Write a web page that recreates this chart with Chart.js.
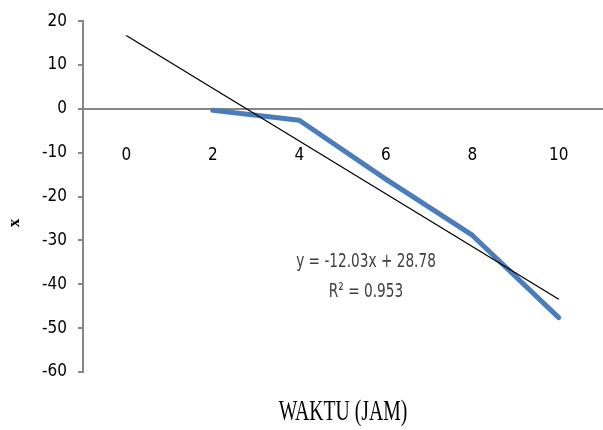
<!DOCTYPE html>
<html>
<head>
<meta charset="utf-8">
<script src="https://cdn.jsdelivr.net/npm/chart.js@4.4.0/dist/chart.umd.min.js"></script>
<style>
html, body { margin: 0; padding: 0; background: #fff; }
</style>
</head>
<body>
<canvas id="waktuChart" width="603" height="430"></canvas>
<script>
// data
const hours = ['0', '2', '4', '6', '8', '10'];
const xValues = [null, -0.3, -2.6, -16.0, -28.8, -47.6];
const trendValues = [16.75, null, null, null, null, -43.4];
const yTicks = [20, 10, 0, -10, -20, -30, -40, -50, -60];
const trendText = ['y = -12.03x + 28.78', 'R\u00B2 = 0.953'];
const xTitle = 'WAKTU (JAM)';
const yTitle = 'x';

const narrow = '"Liberation Sans Narrow", "DejaVu Sans Condensed", sans-serif';
const axisGrey = '#868686';

const textPlugin = {
	id: 'texts',
	afterDraw(chart) {
		const ctx = chart.ctx;
		ctx.save();
		ctx.textAlign = 'center';
		ctx.textBaseline = 'middle';

		// trendline label, squashed like the original
		ctx.fillStyle = '#404040';
		ctx.font = '20px ' + narrow;
		trendText.forEach((t, i) => {
			ctx.save();
			ctx.translate(366, 262 + i * 30);
			ctx.scale(0.76, 1);
			ctx.fillText(t, 0, 0);
			ctx.restore();
		});

		// x axis title
		ctx.fillStyle = '#000';
		ctx.save();
		ctx.translate(343, 412);
		ctx.scale(0.68, 1);
		ctx.font = '29px "Liberation Serif", "Times New Roman", serif';
		ctx.fillText(xTitle, 0, 0);
		ctx.restore();

		// y axis title
		ctx.save();
		ctx.translate(15, 223);
		ctx.rotate(-Math.PI / 2);
		ctx.font = 'bold 17px "Liberation Serif", "Times New Roman", serif';
		ctx.fillText(yTitle, 0, 0);
		ctx.restore();

		ctx.restore();
	}
};

const data = {
	labels: hours,
	datasets: [{
		label: 'x',
		data: xValues,
		borderColor: '#4a7ebb',
		borderWidth: 5,
		pointRadius: 0,
		tension: 0,
		borderCapStyle: 'round',
		borderJoinStyle: 'round',
		order: 2
	}, {
		label: 'trend',
		data: trendValues,
		borderColor: '#000',
		borderWidth: 1.3,
		pointRadius: 0,
		spanGaps: true,
		order: 1
	}]
};

const config = {
	type: 'line',
	data: data,
	options: {
		responsive: false,
		animation: false,
		layout: {
			padding: {top: 18, left: 0, right: 1, bottom: 58}
		},
		plugins: {
			legend: {display: false},
			tooltip: {enabled: false}
		},
		scales: {
			x: {
				type: 'category',
				offset: true,
				position: {y: 0},
				grid: {display: false, offset: true},
				border: {display: true, color: axisGrey, width: 2},
				ticks: {
					color: '#000',
					padding: 28,
					maxRotation: 0,
					font: {family: narrow, size: 17}
				}
			},
			y: {
				min: -60,
				max: 20,
				afterBuildTicks: scale => {
					scale.ticks = yTicks.map(v => ({value: v}));
				},
				afterFit: scale => {
					scale.width = 83;
				},
				grid: {
					display: true,
					drawOnChartArea: false,
					drawTicks: true,
					tickLength: 5,
					color: axisGrey,
					lineWidth: 2
				},
				border: {display: true, color: axisGrey, width: 2},
				ticks: {
					color: '#000',
					padding: 11,
					font: {family: narrow, size: 17}
				}
			}
		}
	},
	plugins: [textPlugin]
};

const ctx = document.getElementById('waktuChart').getContext('2d');
const myChart = new Chart(ctx, config);
</script>
</body>
</html>
